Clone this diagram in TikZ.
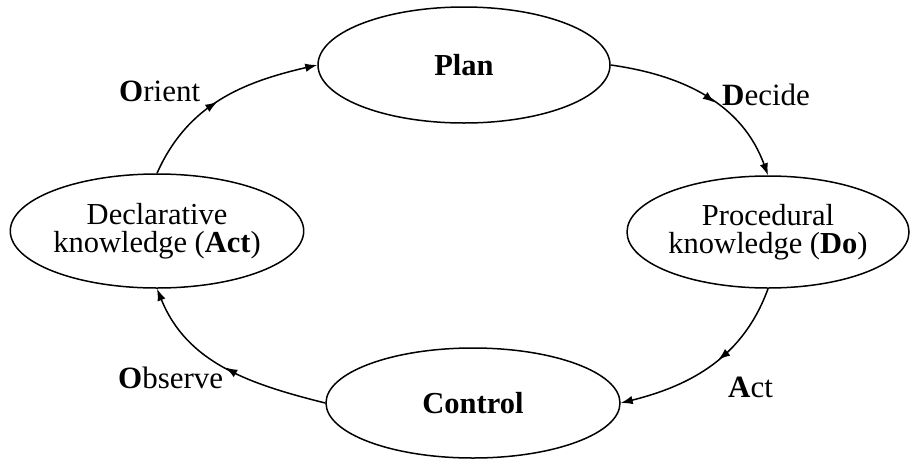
\documentclass[tikz,border=0pt]{standalone}
\usepackage{fontspec}
\setmainfont{Liberation Serif}
\usetikzlibrary{shapes.geometric,arrows.meta,decorations.markings}

\tikzset{
  phase/.style={draw, ellipse, line width=1.5pt, inner sep=0pt, align=center,
                font=\fontsize{30.5}{28.5}\selectfont},
  lbl/.style={font=\fontsize{31}{28}\selectfont, inner sep=0pt, anchor=base west},
  tip/.style={-{Latex[length=12pt,width=8.5pt]}},
  flow/.style={tip, line width=1.5pt,
    postaction={decorate},
    decoration={markings, mark=at position #1 with {\arrow{Latex[length=12pt,width=8.5pt]}}}},
  flow/.default=0.5
}

\begin{document}
\begin{tikzpicture}[x=1pt,y=-1pt]
  \useasboundingbox (0,0) rectangle (910,461);

  % the four phases of the cycle
  \node[phase, minimum width=292pt, minimum height=116pt] (plan) at (464,65) {\textbf{Plan}};
  \node[phase, minimum width=282pt, minimum height=112pt] (proc) at (768,232)
       {Procedural\\knowledge (\textbf{Do})};
  \node[phase, minimum width=294pt, minimum height=110pt] (ctrl) at (473,403) {\textbf{Control}};
  \node[phase, minimum width=292pt, minimum height=114pt] (decl) at (157,231)
       {Declarative\\knowledge (\textbf{Act})};

  % transitions between phases
  \draw[flow=0.47] (decl.north) to[out=66, in=193] (plan.west);
  \draw[flow=0.55] (plan.east) to[out=-8, in=110] (proc.north);
  \draw[flow=0.45] (proc.south) to[out=250, in=14] (ctrl.east);
  \draw[flow=0.5] (ctrl.west) to[out=166, in=292] (decl.south);

  % transition labels
  \node[lbl] (orient) at (119,101) {\textbf{O}rient};
  \node[lbl] (decide) at (722,105) {\textbf{D}ecide};
  \node[lbl] (act) at (728,397) {\textbf{A}ct};
  \node[lbl] (observe) at (118,388) {\textbf{O}bserve};
\end{tikzpicture}
\end{document}
